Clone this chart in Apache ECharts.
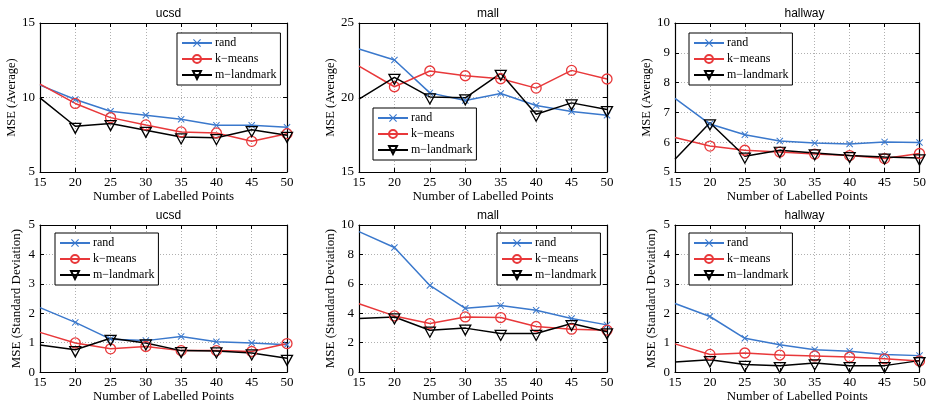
<!DOCTYPE html>
<html><head><meta charset="utf-8">
<script src="https://cdn.jsdelivr.net/npm/echarts@6/dist/echarts.min.js"></script>
<style>html,body{margin:0;padding:0;background:#fff}#c{width:929px;height:404px}</style>
</head><body><div id="c"></div>
<script>
const xs = [15,20,25,30,35,40,45,50];
const seriesNames = ['rand','k\u2212means','m\u2212landmark'];
const titles = ['ucsd','mall','hallway','ucsd','mall','hallway'];
const yNames = ['MSE (Average)','MSE (Average)','MSE (Average)','MSE (Standard Deviation)','MSE (Standard Deviation)','MSE (Standard Deviation)'];
const yMin = [5,15,5,0,0,0];
const yMax = [15,25,10,5,10,5];
const yStep = [5,5,1,1,2,1];

const ucsdAvgRand = [10.83,9.87,9.08,8.81,8.54,8.13,8.13,8.0];
const ucsdAvgKmeans = [10.9,9.6,8.65,8.16,7.69,7.62,7.06,7.57];
const ucsdAvgLandmark = [9.98,8.07,8.25,7.8,7.35,7.3,7.84,7.46];
const mallAvgRand = [23.26,22.52,20.31,19.8,20.27,19.46,19.06,18.81];
const mallAvgKmeans = [22.1,20.72,21.78,21.46,21.26,20.63,21.82,21.24];
const mallAvgLandmark = [19.89,21.35,20.04,19.98,21.62,18.88,19.64,19.19];
const hallAvgRand = [7.47,6.61,6.25,6.04,5.97,5.94,6.01,5.99];
const hallAvgKmeans = [6.16,5.87,5.73,5.67,5.6,5.55,5.45,5.62];
const hallAvgLandmark = [5.43,6.65,5.53,5.73,5.64,5.55,5.5,5.47];
const ucsdStdRand = [2.19,1.69,1.12,1.07,1.21,1.03,0.99,0.93];
const ucsdStdKmeans = [1.35,0.99,0.79,0.87,0.73,0.73,0.7,0.97];
const ucsdStdLandmark = [0.92,0.76,1.15,0.99,0.73,0.72,0.65,0.47];
const mallStdRand = [9.55,8.47,5.89,4.34,4.52,4.2,3.64,3.21];
const mallStdKmeans = [4.65,3.82,3.3,3.75,3.71,3.1,2.92,2.85];
const mallStdLandmark = [3.64,3.75,2.85,2.99,2.63,2.63,3.3,2.74];
const hallStdRand = [2.33,1.89,1.15,0.93,0.76,0.71,0.6,0.56];
const hallStdKmeans = [0.96,0.6,0.65,0.58,0.55,0.51,0.45,0.38];
const hallStdLandmark = [0.34,0.42,0.26,0.22,0.31,0.22,0.22,0.39];

const panels = [
  [ucsdAvgRand, ucsdAvgKmeans, ucsdAvgLandmark],
  [mallAvgRand, mallAvgKmeans, mallAvgLandmark],
  [hallAvgRand, hallAvgKmeans, hallAvgLandmark],
  [ucsdStdRand, ucsdStdKmeans, ucsdStdLandmark],
  [mallStdRand, mallStdKmeans, mallStdLandmark],
  [hallStdRand, hallStdKmeans, hallStdLandmark]
];

// layout
const colL = [40, 359, 675], colW = [247, 248, 249];
const rowT = [23, 225], rowH = [149, 148];
const legendPos = [[177,33],[373,108],[689,33],[55,233],[497,233],[689,233]];

const serif = 'Liberation Serif';
const colors = ['#3a78cc','#e8383a','#000000'];
const crossPath = 'path://M0,1 L1,0 L5,4 L9,0 L10,1 L6,5 L10,9 L9,10 L5,6 L1,10 L0,9 L4,5 Z';
const triPath = 'path://M0,0 L10,0 L5,9 Z';

const grid=[], xAxis=[], yAxis=[], series=[], legend=[], title=[];
panels.forEach((p, i) => {
  const r = Math.floor(i/3), c = i%3;
  grid.push({left: colL[c], top: rowT[r], width: colW[c], height: rowH[r], containLabel:false});
  const tickCommon = {show:true, inside:true, length:4, lineStyle:{color:'#000', width:1}};
  const lineCommon = {show:true, onZero:false, lineStyle:{color:'#000', width:1.2}};
  xAxis.push({type:'value', gridIndex:i, min:15, max:50, interval:5, position:'bottom',
    axisLine:lineCommon, axisTick:tickCommon,
    axisLabel:{color:'#000', fontFamily:serif, fontSize:13, margin:4},
    splitLine:{show:true, lineStyle:{color:'#b0b0b0', type:[1,2], width:1}},
    name:'Number of Labelled Points', nameLocation:'middle', nameGap:15,
    nameTextStyle:{color:'#000', fontFamily:serif, fontSize:13}});
  xAxis.push({type:'value', gridIndex:i, min:15, max:50, interval:5, position:'top',
    axisLine:lineCommon, axisTick:tickCommon, axisLabel:{show:false}, splitLine:{show:false}});
  yAxis.push({type:'value', gridIndex:i, min:yMin[i], max:yMax[i], interval:yStep[i], position:'left',
    axisLine:lineCommon, axisTick:tickCommon,
    axisLabel:{color:'#000', fontFamily:serif, fontSize:13, margin:5},
    splitLine:{show:true, lineStyle:{color:'#b0b0b0', type:[1,2], width:1}},
    name:yNames[i], nameLocation:'middle', nameGap:17,
    nameTextStyle:{color:'#000', fontFamily:serif, fontSize: i < 3 ? 12.5 : 13}});
  yAxis.push({type:'value', gridIndex:i, min:yMin[i], max:yMax[i], interval:yStep[i], position:'right',
    axisLine:lineCommon, axisTick:tickCommon, axisLabel:{show:false}, splitLine:{show:false}});
  title.push({text:titles[i], left: colL[c] + colW[c]/2, top: rowT[r]-20, textAlign:'center',
    textStyle:{fontFamily:'Liberation Sans', fontSize:12, fontWeight:'normal', color:'#000'}});
  p.forEach((vals, k) => {
    const data = xs.map((x, j) => j === 0 ? {value:[x, vals[j]], symbol:'none'} : [x, vals[j]]);
    const s = {name:seriesNames[k], type:'line', xAxisIndex:2*i, yAxisIndex:2*i, data,
      lineStyle:{color:colors[k], width:1.5}, animation:false, clip:true};
    if (k === 0) { s.symbol = crossPath; s.symbolSize = 7; s.itemStyle = {color:colors[0], borderWidth:0}; }
    if (k === 1) { s.symbol = 'circle'; s.symbolSize = 10; s.itemStyle = {color:'rgba(255,255,255,0)', borderColor:colors[1], borderWidth:1.3}; }
    if (k === 2) { s.symbol = triPath; s.symbolSize = [11,10]; s.itemStyle = {color:'rgba(255,255,255,0)', borderColor:colors[2], borderWidth:1.3}; s.symbolOffset=[0,2]; }
    series.push(s);
  });
  legend.push({show:true, orient:'vertical', left: legendPos[i][0], top: legendPos[i][1],
    data: seriesNames, backgroundColor:'#fff', borderColor:'#000', borderWidth:1, borderRadius:0,
    padding:[4,4,4,4], itemGap:4, itemWidth:30, itemHeight:10, selectedMode:false,
    textStyle:{fontFamily:serif, fontSize:12, lineHeight:12, color:'#000', padding:[0,0,0,-2]}});
});

const chart = echarts.init(document.getElementById('c'), null, {renderer:'canvas'});
chart.setOption({backgroundColor:'#fff', animation:false, title, grid, xAxis, yAxis, series, legend});
</script>
</body></html>
